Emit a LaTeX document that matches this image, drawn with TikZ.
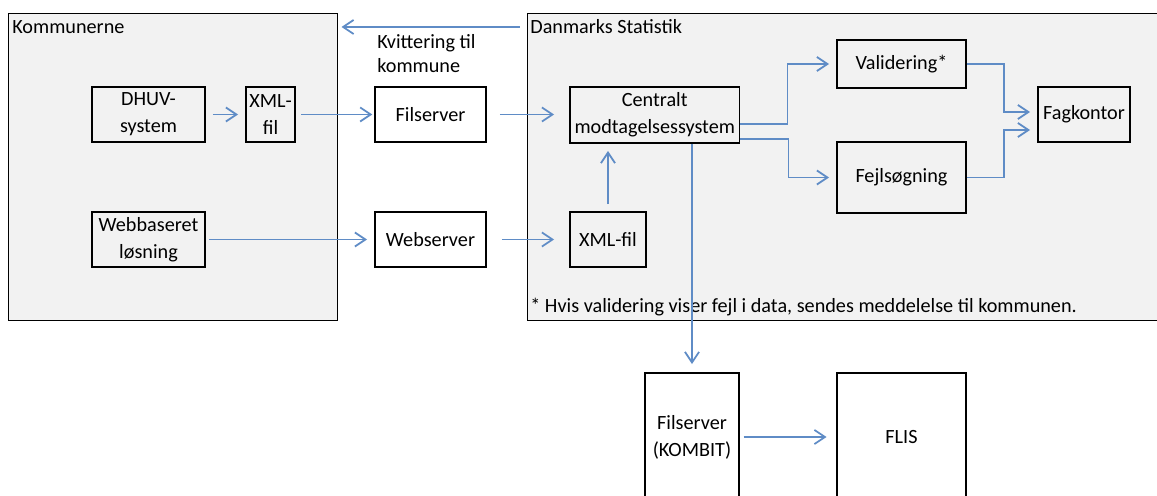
\documentclass[tikz,border=0pt]{standalone}
\usepackage{fontspec}
\setmainfont{Carlito}
\usetikzlibrary{arrows.meta}
\definecolor{pilblaa}{RGB}{95,140,198}
\definecolor{baggrund}{RGB}{242,242,242}
\tikzset{
  boks/.style={draw,line width=1.1pt,align=center,inner sep=1pt,font=\fontsize{11.5}{15.3}\selectfont},
  omraade/.style={draw,line width=.6pt,fill=baggrund,anchor=north west,inner sep=0pt},
  pil/.style={->,draw=pilblaa,line width=1pt,shorten <=4pt,shorten >=4pt},
  tekst/.style={font=\fontsize{11.5}{13.6}\selectfont,inner sep=0pt,align=left}
}
\begin{document}
\begin{tikzpicture}[x=.02cm,y=-.02cm,>={Straight Barb[length=6pt,width=8pt]}]
  \clip (0,0) rectangle (1157,496);
  % omraader
  \node[omraade,minimum width=6.58cm,minimum height=6.14cm] (kom) at (8,13) {};
  \node[omraade,minimum width=13cm,minimum height=6.14cm] (ds) at (527,13) {};
  \node[tekst,anchor=west] (komtxt) at (12,27) {Kommunerne};
  \node[tekst,anchor=west] (dstxt) at (530,27) {Danmarks Statistik};
  \node[tekst,anchor=north west] (kvit) at (377,34) {Kvittering til\\kommune};
  \node[tekst,anchor=west] (fodnote) at (530,307) {* Hvis validering viser fejl i data, sendes meddelelse til kommunen.};
  % kasser
  \node[boks,minimum width=2.26cm,minimum height=1.1cm] (dhuv) at (148.5,114.5) {DHUV-\\system};
  \node[boks,minimum width=.98cm,minimum height=1.1cm] (xmla) at (270.5,114.5) {XML-\\fil};
  \node[boks,fill=white,minimum width=2.22cm,minimum height=1.1cm] (filsrv) at (430.5,114.5) {Filserver};
  \node[boks,minimum width=3.39cm,minimum height=1.12cm] (central) at (654.75,115) {Centralt\\modtagelsessystem};
  \node[boks,minimum width=2.58cm,minimum height=.96cm] (valid) at (901.5,64) {Validering*};
  \node[boks,minimum width=2.58cm,minimum height=1.42cm] (fejl) at (901.5,177.5) {Fejlsøgning};
  \node[boks,minimum width=1.84cm,minimum height=1.1cm] (fag) at (1084,114.5) {Fagkontor};
  \node[boks,minimum width=2.26cm,minimum height=1.1cm] (web) at (148.5,239.5) {Webbaseret\\løsning};
  \node[boks,fill=white,minimum width=2.22cm,minimum height=1.1cm] (websrv) at (430.5,239.5) {Webserver};
  \node[boks,minimum width=1.52cm,minimum height=1.1cm] (xmlb) at (608,239.5) {XML-fil};
  \node[boks,fill=white,minimum width=1.89cm,minimum height=2.56cm] (kombit) at (692,437) {Filserver\\(KOMBIT)};
  \node[boks,fill=white,minimum width=2.58cm,minimum height=2.56cm] (flis) at (901.5,437) {FLIS};
  % pile
  \draw[pil,shorten >=2pt] ([yshift=-.28cm]ds.north west) -- ([yshift=-.28cm]kom.north east);
  \draw[pil] (dhuv) -- (xmla);
  \draw[pil,shorten <=3pt,shorten >=1pt] (xmla) -- (filsrv);
  \draw[pil,shorten <=.26cm,shorten >=.3cm] (filsrv.east) -- (filsrv.east -| central.west);
  \draw[pil,shorten <=2pt] (web) -- (websrv);
  \draw[pil,shorten <=.3cm,shorten >=.3cm] (websrv) -- (xmlb);
  \draw[pil] (xmlb.north) -- (xmlb.north |- central.south);
  \draw[pil,shorten <=0pt] ([yshift=-.18cm]central.east) -- ++(47,0) |- (valid.west);
  \draw[pil,shorten <=0pt] ([yshift=-.48cm]central.east) -- ++(48,0) |- (fejl.west);
  \draw[pil,shorten <=0pt] (valid.east) -- ++(37,0) |- ([yshift=.05cm]fag.west);
  \draw[pil,shorten <=0pt] (fejl.east) -- ++(37,0) |- ([yshift=-.31cm]fag.west);
  \draw[pil,shorten <=0pt,shorten >=.16cm] (central.south -| kombit.north) -- (kombit.north);
  \draw[pil,shorten <=2pt,shorten >=.19cm] (kombit) -- (flis);
\end{tikzpicture}
\end{document}
